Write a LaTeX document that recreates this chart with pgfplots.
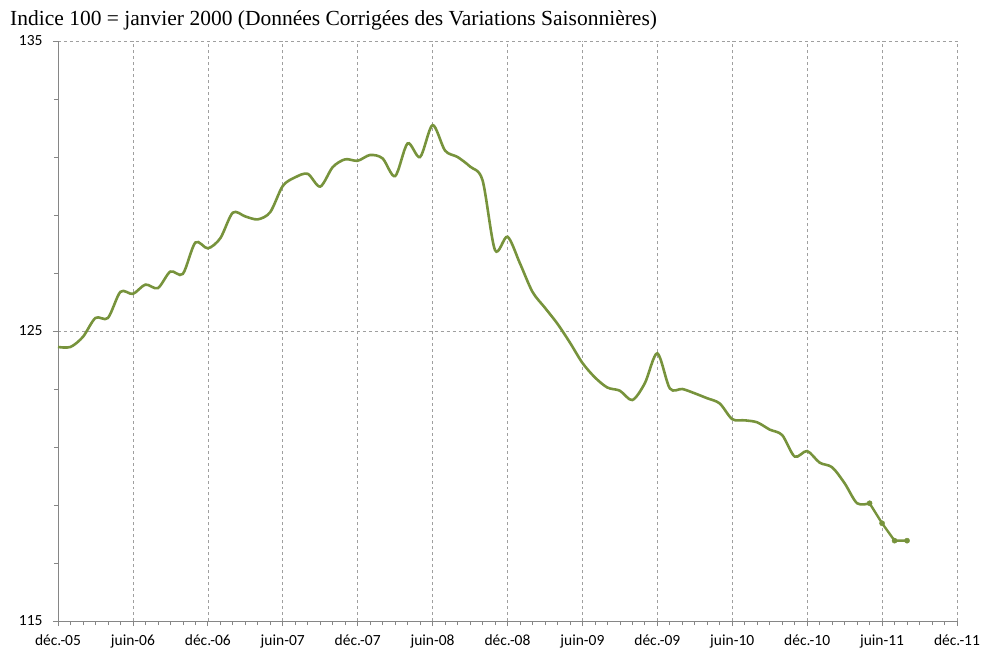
\documentclass[border=0pt]{standalone}
\usepackage{fontspec}
\setmainfont{Liberation Serif}
\newfontfamily\calibri{Carlito}
\usepackage{pgfplots}
\pgfplotsset{compat=1.18}
\definecolor{olive}{RGB}{119,147,60}
\definecolor{axgray}{RGB}{134,134,134}
\begin{document}
\begin{tikzpicture}
\path[use as bounding box] (-58bp,-37bp) rectangle (926bp,621bp);
\begin{axis}[
  at={(0,0)}, anchor=south west,
  width=899bp, height=580bp, scale only axis,
  xmin=0, xmax=72, ymin=115, ymax=135,
  axis x line=bottom, axis y line=left,
  axis line style={axgray, line width=0.8bp, -},
  xtick={0,6,...,72},
  xticklabels={déc.-05,juin-06,déc.-06,juin-07,déc.-07,juin-08,déc.-08,juin-09,déc.-09,juin-10,déc.-10,juin-11,déc.-11},
  minor x tick num=5,
  ytick={115,125,135},
  yticklabels={115,125,135},
  minor y tick num=4,
  tick style={axgray, line width=0.7bp},
  major tick length=5bp, minor tick length=4bp,
  xtick align=outside, ytick align=outside,
  xmajorgrids, ymajorgrids,
  major grid style={gray!75, dashed, line width=0.6bp},
  ticklabel style={font=\calibri\fontsize{15.5bp}{18bp}\selectfont},
  xticklabel style={yshift=-5bp},
  yticklabel style={xshift=-7bp},
  clip=false,
]
\addplot[olive, line width=2.6bp, smooth, tension=0.5] coordinates {
(0,124.45)(1,124.45)(2,124.8)(3,125.45)(4,125.45)(5,126.35)(6,126.28)(7,126.6)(8,126.48)
(9,127.05)(10,126.97)(11,128.05)(12,127.85)(13,128.2)(14,129.08)(15,128.95)(16,128.85)
(17,129.1)(18,130.0)(19,130.3)(20,130.42)(21,129.98)(22,130.65)(23,130.92)(24,130.87)
(25,131.07)(26,130.95)(27,130.34)(28,131.47)(29,131.0)(30,132.1)(31,131.22)(32,131.0)
(33,130.67)(34,130.2)(35,127.79)(36,128.25)(37,127.33)(38,126.35)(39,125.8)(40,125.25)
(41,124.6)(42,123.9)(43,123.4)(44,123.05)(45,122.94)(46,122.62)(47,123.2)(48,124.23)
(49,123.02)(50,123.0)(51,122.85)(52,122.68)(53,122.5)(54,121.96)(55,121.92)(56,121.85)
(57,121.6)(58,121.41)(59,120.67)(60,120.86)(61,120.46)(62,120.3)(63,119.75)(64,119.06)
(65,119.06)
};
\addplot[olive, line width=2.4bp, mark=*, mark size=2.6bp, mark options={solid, fill=olive, draw=olive, line width=0.4bp}] coordinates {
(65,119.06)(66,118.37)(67,117.77)(68,117.77)
};
\end{axis}
\node[anchor=base west, inner sep=0pt, font=\fontsize{21.5bp}{24bp}\selectfont] at (-48bp,595bp)
  {Indice 100 = janvier 2000 (Données Corrigées des Variations Saisonnières)};
\end{tikzpicture}
\end{document}
